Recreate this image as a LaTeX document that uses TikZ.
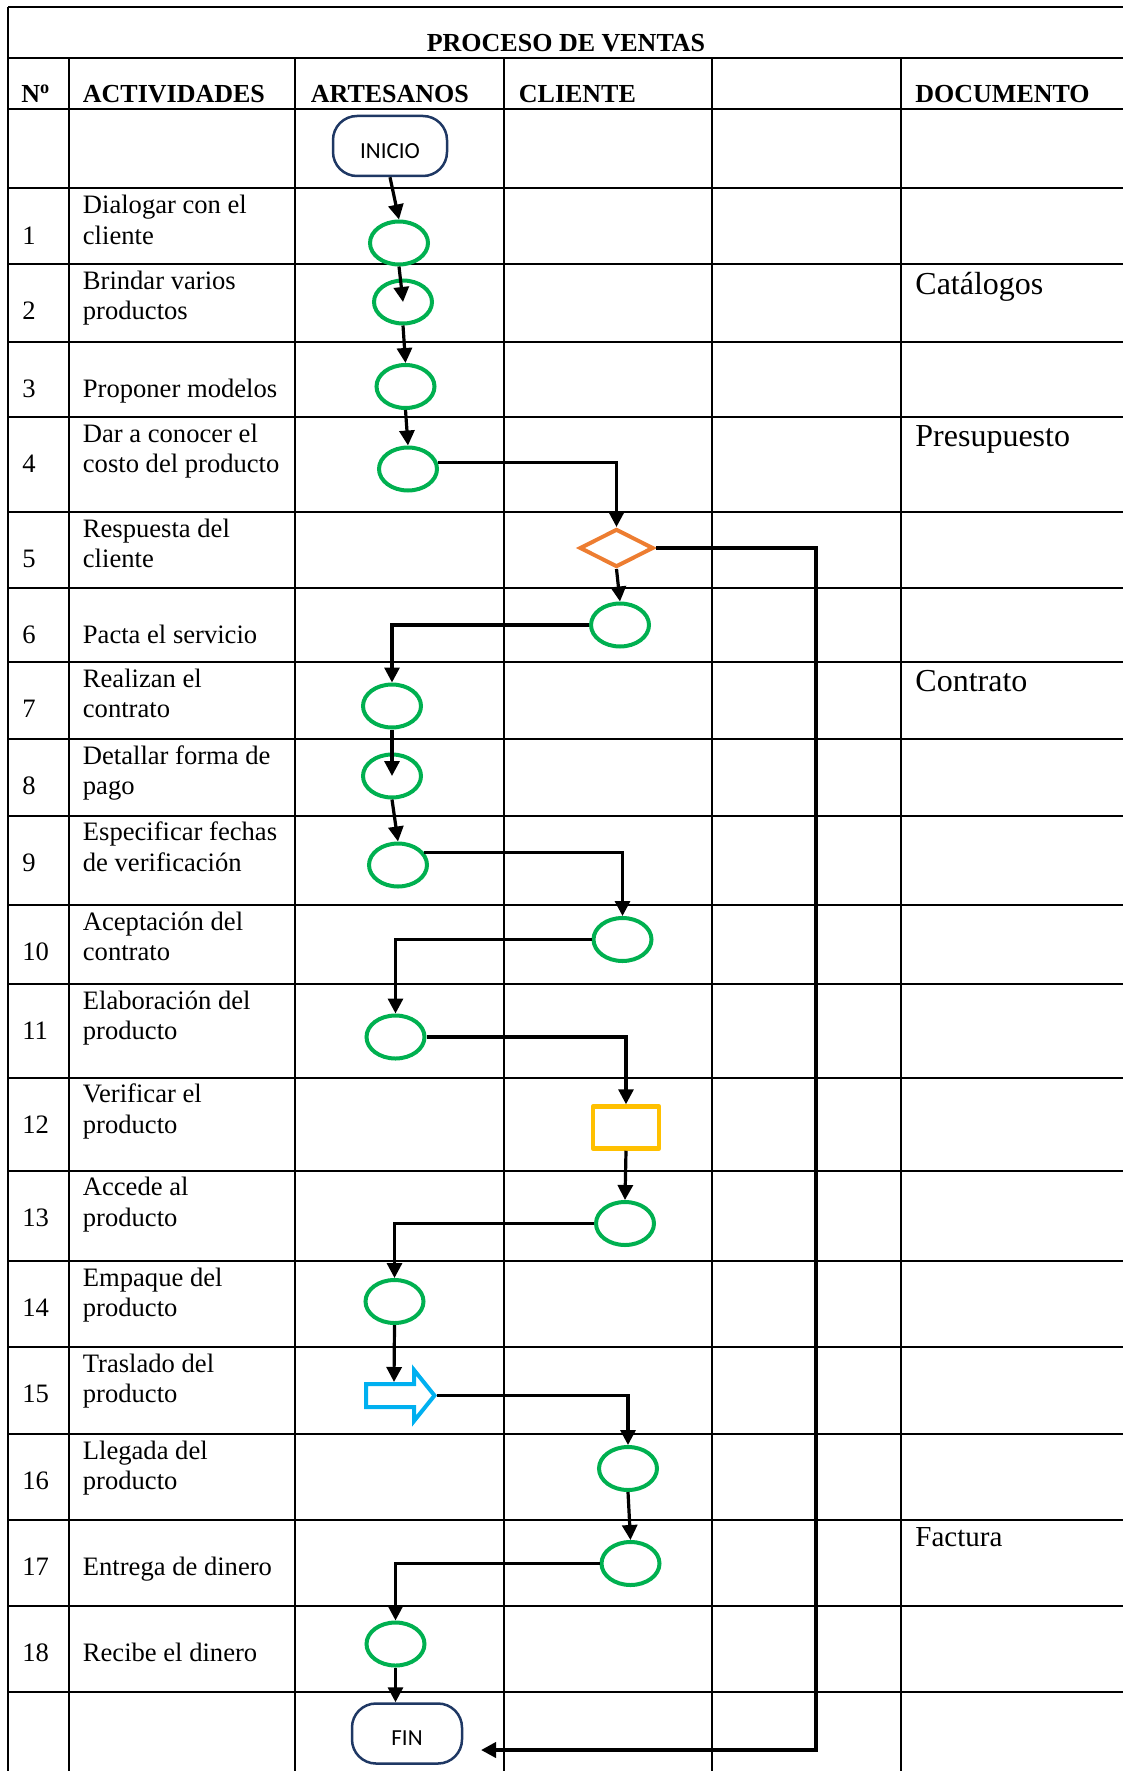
\documentclass[tikz,border=0pt]{standalone}
\usepackage{fontspec}
\setmainfont{Liberation Serif}
\newfontfamily\calibri{Carlito}
\usepackage{tikz}
\usetikzlibrary{arrows.meta, positioning, shapes.geometric}
\definecolor{pverde}{HTML}{00B050}
\definecolor{pnaranja}{HTML}{ED7D31}
\definecolor{pamarillo}{HTML}{FFC000}
\definecolor{pcian}{HTML}{00B0F0}
\definecolor{pmarino}{HTML}{1F3864}

\begin{document}
\begin{tikzpicture}[x=0.5pt, y=-0.5pt,
  rejilla/.style={black, line width=1pt},
  paso/.style={ellipse, draw=pverde, line width=2pt, minimum width=29pt, minimum height=21.5pt, inner sep=0pt},
  decision/.style={diamond, draw=pnaranja, line width=2pt, minimum width=37pt, minimum height=19pt, inner sep=0pt},
  revision/.style={rectangle, draw=pamarillo, line width=2.25pt, line join=round, minimum width=33pt, minimum height=21pt, inner sep=0pt},
  terminal/.style={rectangle, draw=pmarino, line width=1.25pt, rounded corners=12pt, minimum height=30pt, inner sep=0pt,
    font=\calibri\fontsize{11.5}{13}\selectfont, text height=12.4pt, text depth=0pt},
  flujo/.style={line width=1.6pt, -{Triangle[length=7.5pt, width=7.5pt]}},
  retorno/.style={flujo, line width=2pt},
  cab/.style={font=\fontsize{13}{15}\selectfont\bfseries, anchor=base west, inner sep=0pt},
  act/.style={font=\fontsize{13.3}{15.3}\selectfont, anchor=base west, align=left, inner sep=0pt},
  doc/.style={font=\fontsize{16}{18}\selectfont, anchor=base west, inner sep=0pt}]
\useasboundingbox (0,0) rectangle (1123,1771);

% table
\draw[rejilla] (8,7) -- (1123,7) (8,7) -- (8,1771);
\draw[rejilla] (8,58.5) -- (1123,58.5) (8,109) -- (1123,109)
  (8,188.5) -- (1123,188.5) (8,264) -- (1123,264) (8,341.5) -- (1123,341.5)
  (8,417) -- (1123,417) (8,512) -- (1123,512) (8,587.5) -- (1123,587.5)
  (8,662) -- (1123,662) (8,739) -- (1123,739) (8,815.5) -- (1123,815.5)
  (8,905) -- (1123,905) (8,984) -- (1123,984) (8,1077.5) -- (1123,1077.5)
  (8,1170.5) -- (1123,1170.5) (8,1261) -- (1123,1261) (8,1347) -- (1123,1347)
  (8,1434) -- (1123,1434) (8,1519.5) -- (1123,1519.5) (8,1605.5) -- (1123,1605.5)
  (8,1692) -- (1123,1692);
\draw[rejilla] (69,58.5) -- (69,1771) (295,58.5) -- (295,1771) (504,58.5) -- (504,1771)
  (711.5,58.5) -- (711.5,1771) (900.5,58.5) -- (900.5,1771);

\node[cab, anchor=base] (titulo) at (566,51.5) {PROCESO DE VENTAS};
\node[cab] (hnum) at (21,102.5) {N\textsuperscript{o}};
\node[cab] (hact) at (82.5,102.5) {ACTIVIDADES};
\node[cab] (hart) at (310.5,102.5) {ARTESANOS};
\node[cab] (hcli) at (518.5,102.5) {CLIENTE};
\node[cab] (hdoc) at (915,102.5) {DOCUMENTO};

% numbers and activities (base = last line)
\node[act] (num1) at (22,244.1) {1};
\node[act] (txt1) at (82.5,244.1) {Dialogar con el\\cliente};
\node[act] (num2) at (22,319.6) {2};
\node[act] (txt2) at (82.5,319.6) {Brindar varios\\productos};
\node[act] (num3) at (22,397.1) {3};
\node[act] (txt3) at (82.5,397.1) {Proponer modelos};
\node[act] (num4) at (22,472.6) {4};
\node[act] (txt4) at (82.5,472.6) {Dar a conocer el\\costo del producto};
\node[act] (num5) at (22,567.6) {5};
\node[act] (txt5) at (82.5,567.6) {Respuesta del\\cliente};
\node[act] (num6) at (22,643.1) {6};
\node[act] (txt6) at (82.5,643.1) {Pacta el servicio};
\node[act] (num7) at (22,717.6) {7};
\node[act] (txt7) at (82.5,717.6) {Realizan el\\contrato};
\node[act] (num8) at (22,794.6) {8};
\node[act] (txt8) at (82.5,794.6) {Detallar forma de\\pago};
\node[act] (num9) at (22,871.1) {9};
\node[act] (txt9) at (82.5,871.1) {Especificar fechas\\de verificación};
\node[act] (num10) at (22,960.6) {10};
\node[act] (txt10) at (82.5,960.6) {Aceptación del\\contrato};
\node[act] (num11) at (22,1039.6) {11};
\node[act] (txt11) at (82.5,1039.6) {Elaboración del\\producto};
\node[act] (num12) at (22,1133.1) {12};
\node[act] (txt12) at (82.5,1133.1) {Verificar el\\producto};
\node[act] (num13) at (22,1226.1) {13};
\node[act] (txt13) at (82.5,1226.1) {Accede al\\producto};
\node[act] (num14) at (22,1316.6) {14};
\node[act] (txt14) at (82.5,1316.6) {Empaque del\\producto};
\node[act] (num15) at (22,1402.6) {15};
\node[act] (txt15) at (82.5,1402.6) {Traslado del\\producto};
\node[act] (num16) at (22,1489.6) {16};
\node[act] (txt16) at (82.5,1489.6) {Llegada del\\producto};
\node[act] (num17) at (22,1575.1) {17};
\node[act] (txt17) at (82.5,1575.1) {Entrega de dinero};
\node[act] (num18) at (22,1661.1) {18};
\node[act] (txt18) at (82.5,1661.1) {Recibe el dinero};

% documents
\node[doc] (doc2) at (915,294) {Catálogos};
\node[doc] (doc4) at (915,446.5) {Presupuesto};
\node[doc] (doc7) at (915,691.5) {Contrato};
\node[doc, font=\fontsize{14.5}{17}\selectfont] (doc17) at (915,1546) {Factura};

% flow symbols
\node[terminal, minimum width=57pt] (inicio) at (390,146) {INICIO};
\node[paso] (n1) at (399,243) {};
\node[paso] (n2) at (403,302) {};
\node[paso] (n3) at (405.5,386.5) {};
\node[paso] (n4) at (408,469) {};
\node[decision] (n5) at (616.5,548) {};
\node[paso] (n6) at (620,625) {};
\node[paso] (n7) at (392,706) {};
\node[paso] (n8) at (392,776) {};
\node[paso] (n9) at (398,865) {};
\node[paso] (n10) at (622.5,939.5) {};
\node[paso] (n11) at (395.5,1037) {};
\node[revision] (n12) at (626,1127.5) {};
\node[paso] (n13) at (625,1223.5) {};
\node[paso] (n14) at (394.5,1301.5) {};
\draw[pcian, line width=2pt] (366,1384) -- (414,1384) -- (414,1370) -- (434.5,1395.5)
  -- (414,1421) -- (414,1407) -- (366,1407) -- cycle;
\coordinate (n15a) at (394,1382);
\coordinate (n15b) at (437,1395.5);
\node[paso] (n16) at (628,1468.5) {};
\node[paso] (n17) at (630.5,1563.5) {};
\node[paso] (n18) at (395.5,1644) {};
\node[terminal, minimum width=55pt] (fin) at (407,1733.5) {FIN};
\coordinate (codo) at (816,1750);
\coordinate (finR) at (481,1750);

% connectors
\draw[flujo] (inicio.south) -- (n1.north);
\draw[flujo] (n1.south) -- (n2.center);
\draw[flujo] (n2.south) -- (n3.north);
\draw[flujo] (n3.south) -- (n4.north);
\draw[flujo] (n4.13) -| (n5.north);
\draw[flujo] (n5.south) -- (n6.north);
\draw[flujo] (n6.west) -| (n7.north);
\draw[flujo] (n7.south) -- (n8.center);
\draw[flujo] (n8.south) -- (n9.north);
\draw[flujo] (n9.25) -| (n10.north);
\draw[flujo] (n10.west) -| (n11.north);
\draw[flujo] (n11.east) -| (n12.north);
\draw[flujo] (n12.south) -- (n13.north);
\draw[flujo] (n13.west) -| (n14.north);
\draw[flujo] (n14.south) -- (n15a);
\draw[flujo] (n15b) -| (n16.north);
\draw[flujo] (n16.south) -- (n17.north);
\draw[flujo] (n17.west) -| (n18.north);
\draw[flujo] (n18.south) -- (n18.south |- fin.north);
\draw[retorno] (n5.east) -| (codo) -- (finR);
\end{tikzpicture}
\end{document}
